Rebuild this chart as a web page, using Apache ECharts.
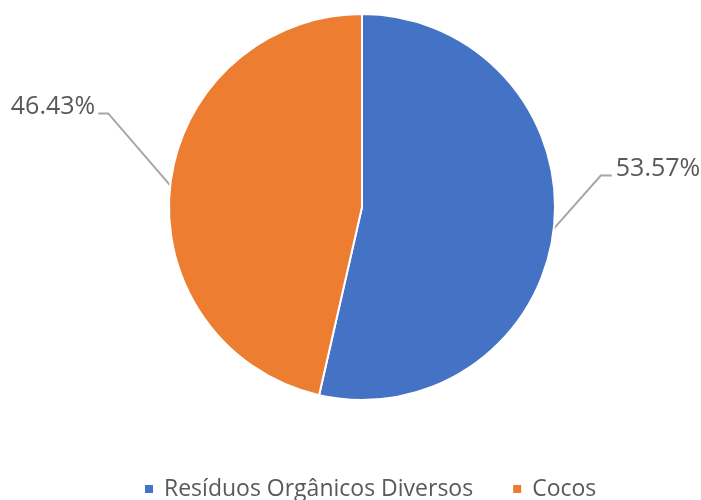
<!DOCTYPE html>
<html>
<head>
<meta charset="utf-8">
<script src="https://cdn.jsdelivr.net/npm/echarts@6/dist/echarts.min.js"></script>
<style>
  html, body { margin: 0; padding: 0; background: #fff; }
  #chart { width: 701px; height: 500px; }
</style>
</head>
<body>
<div id="chart"></div>
<script>
// dados do gráfico
var categories = ['Resíduos Orgânicos Diversos', 'Cocos'];
var percents = [53.57, 46.43];
var colors = ['#4472C4', '#ED7D31'];

var chart = echarts.init(document.getElementById('chart'));

var textColor = '#595959';
var fontFamily = '"Open Sans", "Noto Sans", sans-serif';

// guia dos rótulos: primeiro segmento diagonal, depois horizontal
var guides = [
  { dx: 47, dy: -53, h: 11 },   // direita
  { dx: -62, dy: -72, h: -10 }  // esquerda
];

var option = {
  animation: false,
  color: colors,
  textStyle: { fontFamily: fontFamily },
  legend: {
    data: categories,
    left: 143,
    top: 475,
    padding: 0,
    icon: 'rect',
    itemWidth: 10,
    itemHeight: 10,
    itemGap: 38,
    textStyle: {
      color: textColor,
      fontSize: 23,
      lineHeight: 28,
      padding: [0, 0, 0, 5],
      fontFamily: fontFamily
    }
  },
  series: [{
    type: 'pie',
    center: [362, 207],
    radius: 193,
    startAngle: 90,
    clockwise: true,
    itemStyle: {
      borderColor: '#fff',
      borderWidth: 2
    },
    label: {
      show: true,
      position: 'outside',
      color: textColor,
      fontSize: 25,
      fontFamily: fontFamily,
      bleedMargin: 0,
      overflow: 'none',
      formatter: function (p) {
        return p.value.toFixed(2) + '%';
      }
    },
    labelLine: {
      show: true,
      length: 4,
      length2: 4,
      lineStyle: { color: '#A6A6A6', width: 2 }
    },
    labelLayout: function (params) {
      var pts = params.labelLinePoints;
      if (!pts || !pts.length) return {};
      var g = guides[params.dataIndex];
      var p0 = pts[0];
      var p1 = [p0[0] + g.dx, p0[1] + g.dy];
      var p2 = [p1[0] + g.h, p1[1]];
      var right = g.h > 0;
      return {
        x: p2[0] + (right ? 4 : -3),
        y: p2[1] - 7,
        align: right ? 'left' : 'right',
        verticalAlign: 'middle',
        labelLinePoints: [p0, p1, p2]
      };
    },
    data: categories.map(function (name, i) {
      return { name: name, value: percents[i] };
    })
  }]
};

chart.setOption(option);
</script>
</body>
</html>
